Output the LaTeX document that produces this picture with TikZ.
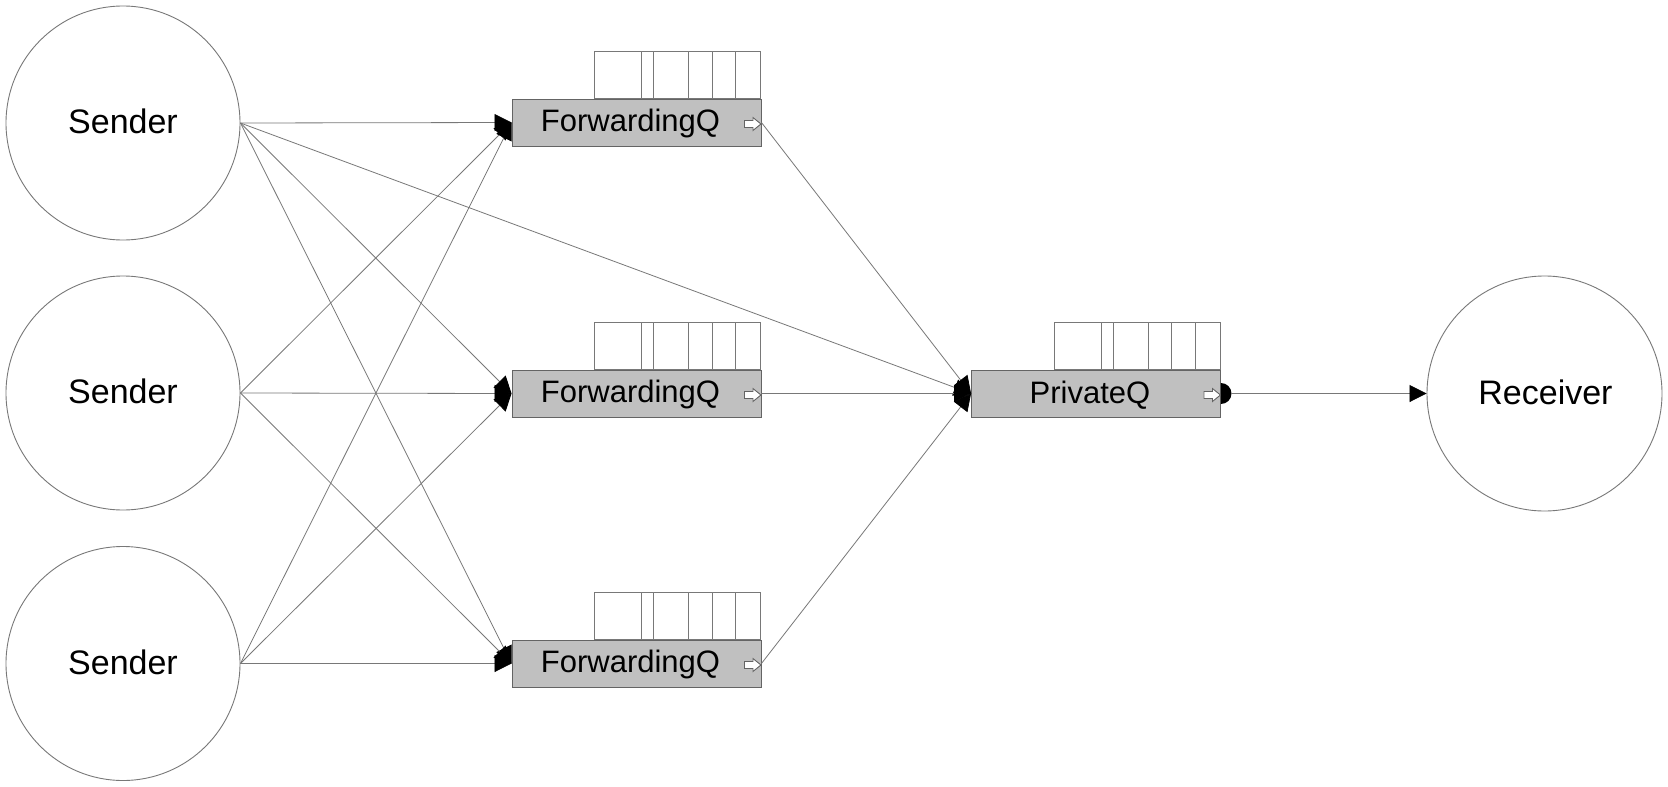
\documentclass[tikz,border=0pt]{standalone}
\usepackage{fontspec}
\setmainfont{Liberation Sans}
\usetikzlibrary{arrows.meta,calc}
\definecolor{linegray}{RGB}{120,120,120}
\definecolor{boxgray}{RGB}{192,192,192}
\definecolor{edgegray}{RGB}{100,100,100}
\newcommand\qcells[1]{%
  \begin{scope}[shift={(#1.north west)}]
    \draw[cellstyle] (83,0) rectangle (249,-47);
    \foreach \x in {130,142,177,200.5,224} \draw[cellstyle] (\x,0) -- (\x,-47);
  \end{scope}}
\newcommand\qarrow[1]{%
  \begin{scope}[shift={(#1.east)}]
    \draw[edgegray,fill=white,line width=0.9pt] (-17,-2) -- (-8.5,-2) -- (-8.5,-5) -- (-0.5,1.5) -- (-8.5,8) -- (-8.5,5) -- (-17,5) -- cycle;
  \end{scope}}
\begin{document}
\begin{tikzpicture}[x=1pt,y=-1pt,
  party/.style={circle,draw=linegray,line width=0.9pt,minimum size=234pt,inner sep=0pt},
  qbox/.style={rectangle,draw=edgegray,fill=boxgray,line width=0.9pt,minimum width=249pt,minimum height=47pt,inner sep=0pt},
  bigtext/.style={font=\fontsize{34}{40}\selectfont,anchor=base,inner sep=0pt},
  qtext/.style={font=\fontsize{31}{36}\selectfont,anchor=base,inner sep=0pt},
  cellstyle/.style={draw=linegray,fill=white,line width=0.8pt},
  conn/.style={draw=linegray,line width=0.8pt},
  tip/.style={-{Triangle[length=17pt,width=17pt,color=black]}},
]
\useasboundingbox (0,0) rectangle (1668,787);
\fill[white] (0,0) rectangle (1668,787);

% senders and receiver
\node[party] (S1) at (123,123) {};
\node[party] (S2) at (123,393) {};
\node[party] (S3) at (123,663.5) {};
\node[party,minimum size=235pt] (R) at (1544.5,393.5) {};
\node[bigtext] (S1t) at (123,133.5) {Sender};
\node[bigtext] (S2t) at (123,403.5) {Sender};
\node[bigtext] (S3t) at (123,674) {Sender};
\node[bigtext] (Rt) at (1545.5,404) {Receiver};

% queues
\node[qbox] (F1) at (636.5,122.5) {};
\node[qbox] (F2) at (636.5,393.5) {};
\node[qbox] (F3) at (636.5,663.5) {};
\node[qbox] (P) at (1096,393.5) {};
\qcells{F1}\qcells{F2}\qcells{F3}\qcells{P}
\qarrow{F1}\qarrow{F2}\qarrow{F3}\qarrow{P}
\node[qtext] (F1t) at (630.5,131.7) {ForwardingQ};
\node[qtext] (F2t) at (630.5,402.7) {ForwardingQ};
\node[qtext] (F3t) at (630.5,672.7) {ForwardingQ};
\node[qtext] (Pt) at (1090,403.3) {PrivateQ};

% connectors
\foreach \s in {S1,S2,S3}
  \foreach \f in {F1,F2,F3}
    \draw[conn,tip] (\s.east) -- (\f.west);
\draw[conn,tip] (S1.east) -- (P.west);
\foreach \f in {F1,F2,F3}
  \draw[conn,tip] (\f.east) -- (P.west);

% output dot of PrivateQ
\fill[black] (P.east) ++(0,10.5) arc[start angle=90,end angle=-90,radius=10.5] -- cycle;
\coordinate (Pout) at ($(P.east)+(10.5,0)$);
\draw[conn,tip] (Pout) -- (R.west);
\end{tikzpicture}
\end{document}
